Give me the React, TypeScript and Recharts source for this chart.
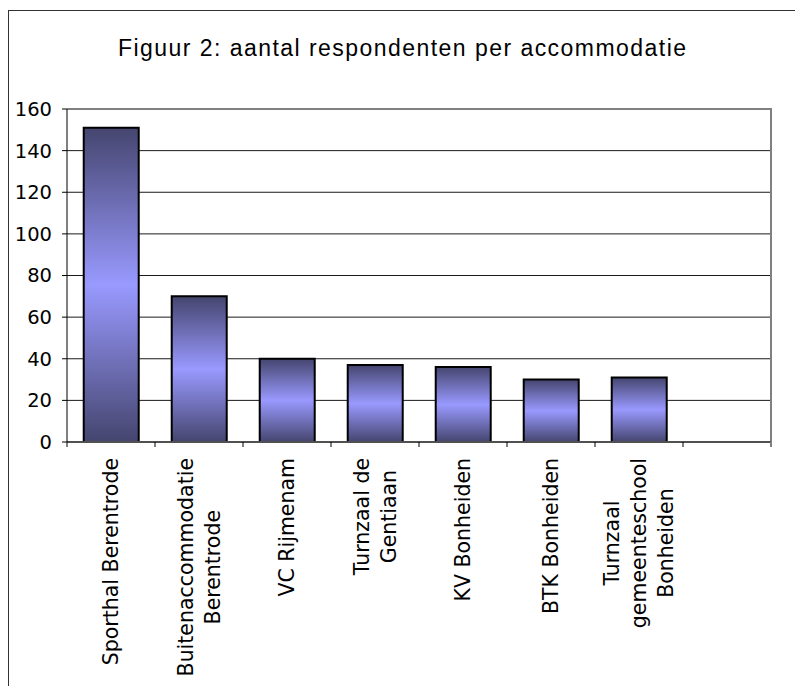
import * as RC from "recharts";
import { BarChart, Bar, XAxis, YAxis, CartesianGrid } from "recharts";

const categories = [
  "Sporthal Berentrode",
  "Buitenaccommodatie\nBerentrode",
  "VC Rijmenam",
  "Turnzaal de\nGentiaan",
  "KV Bonheiden",
  "BTK Bonheiden",
  "Turnzaal\ngemeenteschool\nBonheiden",
  "",
];
const respondents = [151, 70, 40, 37, 36, 30, 31, null];
const yTicks = [0, 20, 40, 60, 80, 100, 120, 140, 160];

const data = categories.map((name, i) => ({ name, value: respondents[i] }));

const LABEL_FONT = "20.5px 'DejaVu Sans'";
const BAND = 88; // plot width / categories

let ctx: CanvasRenderingContext2D | null = null;
const measure = (s: string) => {
  if (!ctx) ctx = document.createElement("canvas").getContext("2d");
  if (!ctx) return s.length * 11;
  ctx.font = LABEL_FONT;
  return ctx.measureText(s).width;
};

function CategoryTick(props: any) {
  const { x, y, payload, index } = props;
  const lines = String(payload.value || "").split("\n").filter(Boolean);
  const longest = Math.max(0, ...lines.map(measure));
  const lineH = 27;
  const n = lines.length;
  return (
    <g>
      <line x1={x - BAND / 2} x2={x - BAND / 2} y1={y} y2={y + 5} stroke="#000" />
      {index === categories.length - 1 && (
        <line x1={x + BAND / 2} x2={x + BAND / 2} y1={y} y2={y + 5} stroke="#808080" strokeWidth={2} />
      )}
      <g transform={`translate(${x},${y + 16}) rotate(-90)`}>
        {lines.map((l, i) => (
          <text
            key={i}
            x={-longest / 2}
            y={(i - (n - 1) / 2) * lineH}
            dy="0.36em"
            textAnchor="middle"
            fontFamily="'DejaVu Sans', sans-serif"
            fontSize={20.5}
            fill="#000"
          >
            {l}
          </text>
        ))}
      </g>
    </g>
  );
}

function PlotFrame() {
  const api: any = RC;
  const area = api.usePlotArea ? api.usePlotArea() : null;
  if (!area) return null;
  const { x, y, width, height } = area;
  return (
    <path
      d={`M${x},${y} H${x + width} V${y + height}`}
      stroke="#808080"
      strokeWidth={2}
      fill="none"
    />
  );
}

export default function App() {
  return (
    <div
      style={{
        position: "absolute",
        left: 0,
        top: 0,
        width: 795,
        height: 686,
        overflow: "hidden",
        background: "#fff",
      }}
    >
      <div
        style={{
          position: "absolute",
          left: 8,
          top: 10,
          width: 820,
          height: 720,
          borderTop: "1.5px solid #333",
          borderLeft: "1.5px solid #333",
        }}
      />
      <svg
        width={795}
        height={80}
        style={{ position: "absolute", left: 0, top: 0 }}
      >
        <text
          x={402}
          y={56}
          textAnchor="middle"
          textLength={568}
          lengthAdjust="spacing"
          fontFamily="'Liberation Sans Narrow', 'Arial Narrow', 'Liberation Sans', sans-serif"
          fontSize={23}
          fill="#000"
        >
          Figuur 2: aantal respondenten per accommodatie
        </text>
      </svg>
      <div style={{ position: "absolute", left: 0, top: 0 }}>
        <BarChart
          width={795}
          height={686}
          data={data}
          margin={{ top: 109, right: 24, left: 10, bottom: 0 }}
          barCategoryGap="19%"
        >
          <defs>
            <linearGradient id="barFill" x1="0" y1="0" x2="0" y2="1">
              <stop offset="0%" stopColor="#45456f" />
              <stop offset="50%" stopColor="#9999ff" />
              <stop offset="100%" stopColor="#45456f" />
            </linearGradient>
          </defs>
          <CartesianGrid vertical={false} stroke="#1a1a1a" strokeWidth={1} />
          <XAxis
            dataKey="name"
            interval={0}
            height={244}
            tickSize={0}
            tickMargin={0}
            tickLine={false}
            axisLine={{ stroke: "#505050", strokeWidth: 2 }}
            tick={<CategoryTick />}
          />
          <YAxis
            domain={[0, 160]}
            ticks={yTicks}
            interval={0}
            width={57}
            tickSize={5}
            tickMargin={10}
            axisLine={{ stroke: "#000" }}
            tickLine={{ stroke: "#000" }}
            tick={{ fill: "#000", fontSize: 19.5, fontFamily: "'DejaVu Sans', sans-serif" }}
          />
          <Bar
            dataKey="value"
            fill="url(#barFill)"
            stroke="#000"
            strokeWidth={2}
            isAnimationActive={false}
          />
          <PlotFrame />
        </BarChart>
      </div>
    </div>
  );
}
